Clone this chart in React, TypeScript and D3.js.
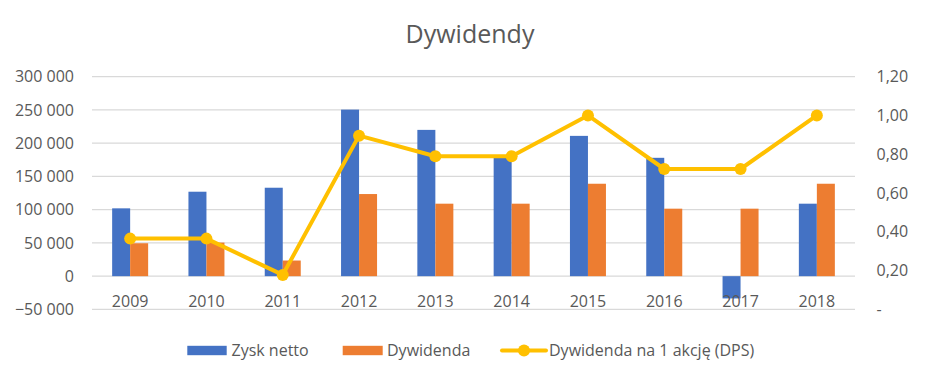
import React from "react";
import * as d3 from "d3";

const categories = ["2009", "2010", "2011", "2012", "2013", "2014", "2015", "2016", "2017", "2018"];
const zyskNetto = [102000, 127000, 133000, 250500, 220000, 179000, 211000, 178000, -33500, 109000];
const dywidenda = [49500, 50500, 23500, 123500, 109000, 109000, 139000, 101500, 101500, 139000];
const dps = [0.365, 0.365, 0.178, 0.896, 0.79, 0.79, 1.0, 0.724, 0.724, 1.0];
const leftTicks = [-50000, 0, 50000, 100000, 150000, 200000, 250000, 300000];
const rightTicks = [0, 0.2, 0.4, 0.6, 0.8, 1.0, 1.2];
const seriesNames = ["Zysk netto", "Dywidenda", "Dywidenda na 1 akcję (DPS)"];
const title = "Dywidendy";

const W = 940;
const H = 381;
const FONT = "'Open Sans', 'Noto Sans', sans-serif";
const TEXT = "#595959";
const BLUE = "#4472C4";
const ORANGE = "#ED7D31";
const GOLD = "#FFC000";

const fmtLeft = (v: number) => {
  if (v === 0) return "0";
  const s = d3.format(",")(v).replace(/,/g, " ");
  return s;
};
const fmtRight = (v: number) => (v === 0 ? "-" : v.toFixed(2).replace(".", ","));

export default function App() {
  const x0 = 92, x1 = 855, yTop = 76.7, yBot = 309.4;
  const x = d3.scaleBand<string>().domain(categories).range([x0, x1]).padding(0);
  const yL = d3.scaleLinear().domain([-50000, 300000]).range([yBot, yTop]);
  const yR = d3.scaleLinear().domain([0, 1.2]).range([yBot, yTop]);
  const bw = 18;
  const cx = (c: string) => (x(c) as number) + x.bandwidth() / 2;
  const line = d3
    .line<number>()
    .x((_, i) => cx(categories[i]))
    .y((d) => yR(d));

  const legendY = 350.5;
  return (
    <svg
      width={W}
      height={H}
      style={{ position: "absolute", left: 0, top: 0, background: "#fff" }}
      fontFamily={FONT}
    >
      <rect x={0} y={0} width={W} height={H} fill="#fff" />
      <text x={470} y={43} textAnchor="middle" fontSize={25} fill={TEXT}>
        {title}
      </text>
      {leftTicks.map((t) => (
        <g key={t}>
          <line x1={x0} x2={x1} y1={yL(t)} y2={yL(t)} stroke="#d9d9d9" strokeWidth={1.3} />
          <text x={74} y={yL(t)} dy="0.35em" textAnchor="end" fontSize={16} fill={TEXT}>
            {fmtLeft(t)}
          </text>
        </g>
      ))}
      {rightTicks.map((t) => (
        <text key={t} x={876.5} y={yR(t)} dy="0.35em" textAnchor="start" fontSize={16} fill={TEXT}>
          {fmtRight(t)}
        </text>
      ))}
      {categories.map((c, i) => (
        <g key={c}>
          <rect
            x={cx(c) - bw}
            width={bw}
            y={Math.min(yL(zyskNetto[i]), yL(0))}
            height={Math.abs(yL(zyskNetto[i]) - yL(0))}
            fill={BLUE}
          />
          <rect
            x={cx(c)}
            width={bw}
            y={Math.min(yL(dywidenda[i]), yL(0))}
            height={Math.abs(yL(dywidenda[i]) - yL(0))}
            fill={ORANGE}
          />
          <text x={cx(c)} y={306.5} textAnchor="middle" fontSize={16} fill={TEXT}>
            {c}
          </text>
        </g>
      ))}
      <path d={line(dps) || ""} fill="none" stroke={GOLD} strokeWidth={4} strokeLinejoin="round" />
      {dps.map((d, i) => (
        <circle key={i} cx={cx(categories[i])} cy={yR(d)} r={6} fill={GOLD} />
      ))}
      {/* legend */}
      <rect x={187.3} y={legendY - 4.7} width={39.4} height={9.4} fill={BLUE} />
      <text x={231.5} y={legendY} dy="0.35em" fontSize={16} fill={TEXT}>
        {seriesNames[0]}
      </text>
      <rect x={342.7} y={legendY - 4.7} width={40} height={9.4} fill={ORANGE} />
      <text x={387} y={legendY} dy="0.35em" fontSize={16} fill={TEXT}>
        {seriesNames[1]}
      </text>
      <line x1={502} x2={546} y1={legendY} y2={legendY} stroke={GOLD} strokeWidth={4} strokeLinecap="round" />
      <circle cx={524} cy={legendY} r={6} fill={GOLD} />
      <text x={549} y={legendY} dy="0.35em" fontSize={16} fill={TEXT}>
        {seriesNames[2]}
      </text>
    </svg>
  );
}
